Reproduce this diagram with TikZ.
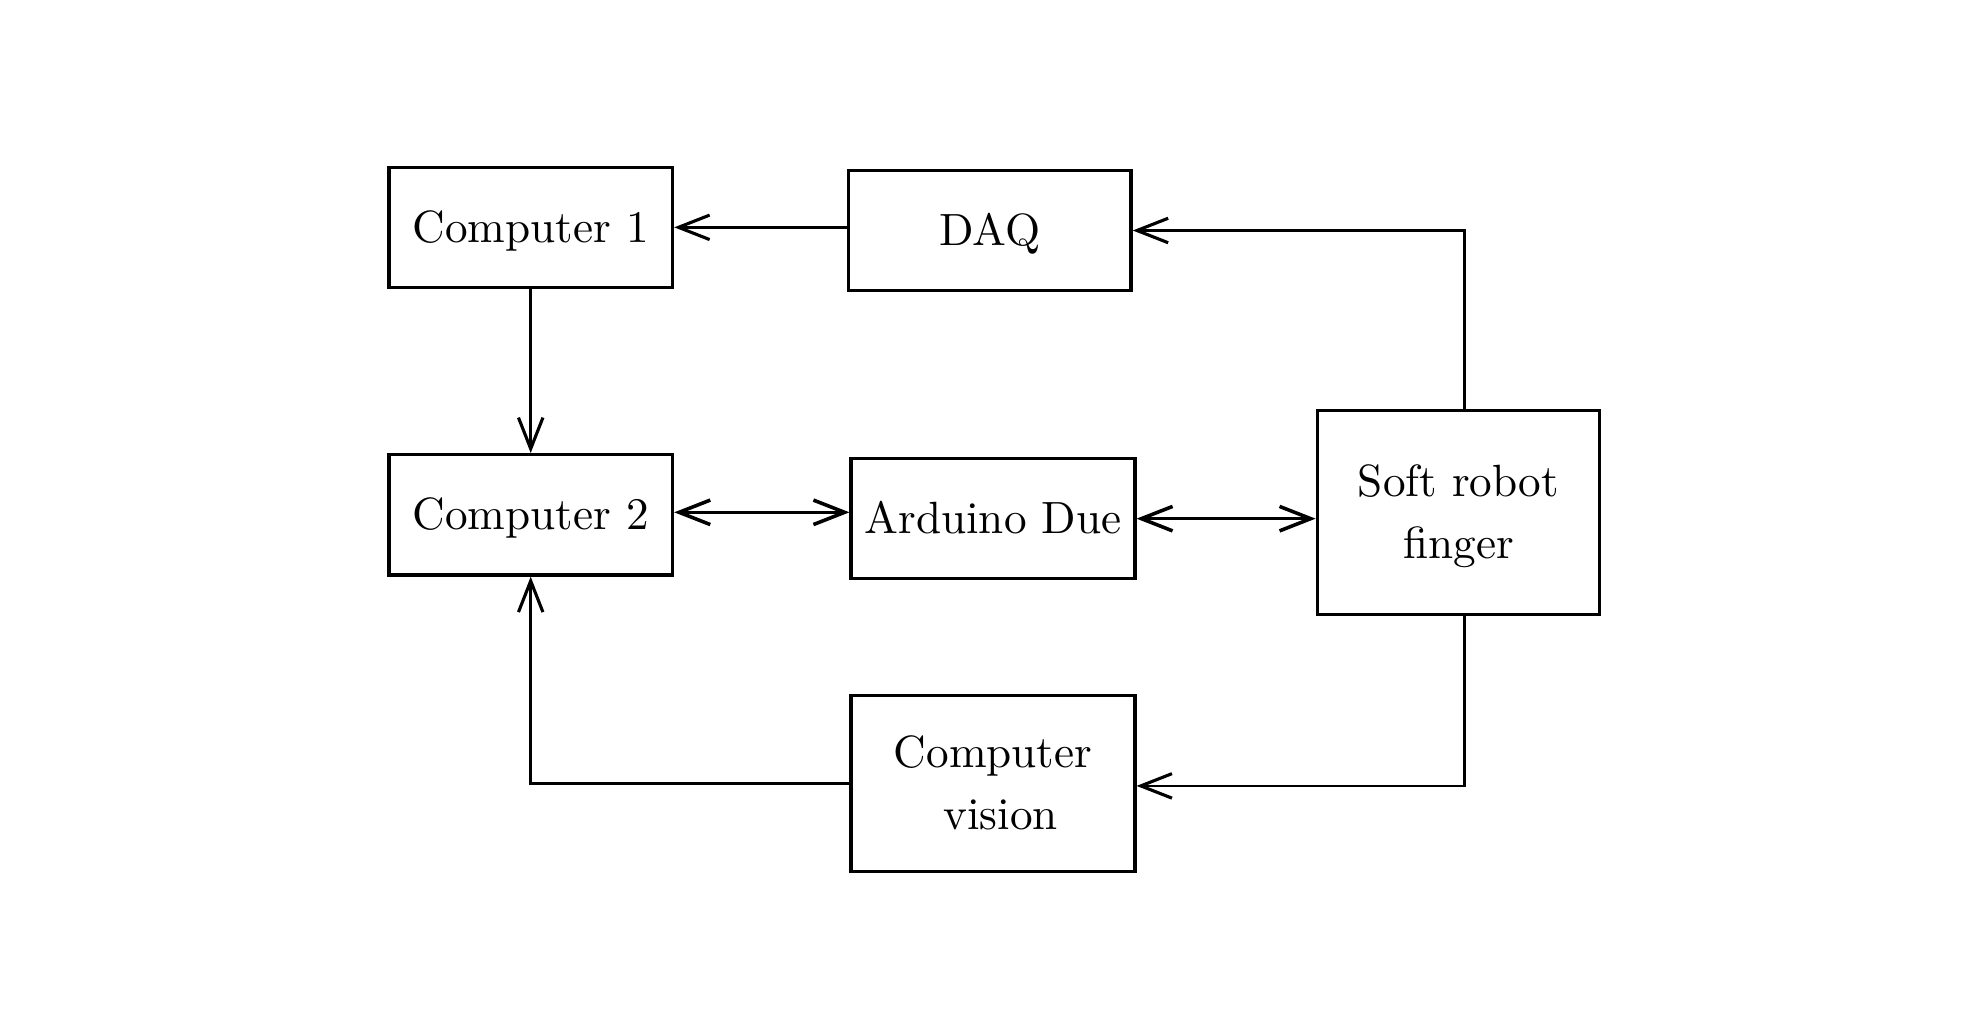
\documentclass[tikz,border=0pt]{standalone}
\usetikzlibrary{arrows.meta}
\newcommand{\lotext}[1]{\raisebox{-0.9pt}[\height][\depth]{\begin{tabular}{@{}c@{}}#1\end{tabular}}}
\begin{document}
\begin{tikzpicture}[
  box/.style={draw, line width=0.75pt, minimum width=2.24cm, minimum height=0.95cm, inner sep=0pt, align=center, font=\fontsize{10.15}{12.2}\selectfont},
  arr/.style={line width=0.6pt, -{Straight Barb[length=7pt,width=5.5pt,line width=0.7pt]}},
  darr/.style={line width=0.8pt, {Straight Barb[length=7pt,width=5.5pt,line width=0.8pt]}-{Straight Barb[length=7pt,width=5.5pt,line width=0.8pt]}}
]
\useasboundingbox (0,0) rectangle (15.68,-8.053);
\node[box] (c1) at (4.19,-1.795) {\lotext{Computer 1}};
\node[box, minimum width=2.23cm] (daq) at (7.815,-1.82) {\lotext{DAQ}};
\node[box] (c2) at (4.19,-4.065) {\lotext{Computer 2}};
\node[box] (ard) at (7.84,-4.095) {\lotext{Arduino Due}};
\node[box, minimum width=2.23cm, minimum height=1.61cm] (soft) at (11.515,-4.045) {\lotext{Soft robot\\[1.8pt] finger}};
\node[box, minimum height=1.39cm] (cv) at (7.84,-6.185) {\lotext{Computer\\[1.8pt] \hspace*{0.12cm}vision}};
\draw[arr] (c1.east -| daq.west) -- (c1.east);
\draw[arr] ([xshift=0.045cm]soft.north) |- (daq.east);
\draw[arr] (c1.south) -- (c2.north);
\draw[darr] ([yshift=0.02cm]c2.east) -- ([yshift=0.02cm]c2.east -| ard.west);
\draw[darr] (ard.east) -- (ard.east -| soft.west);
\draw[arr] ([xshift=0.045cm]soft.south) |- ([yshift=-0.02cm]cv.east);
\draw[arr] (cv.west) -| (c2.south);
\end{tikzpicture}
\end{document}
